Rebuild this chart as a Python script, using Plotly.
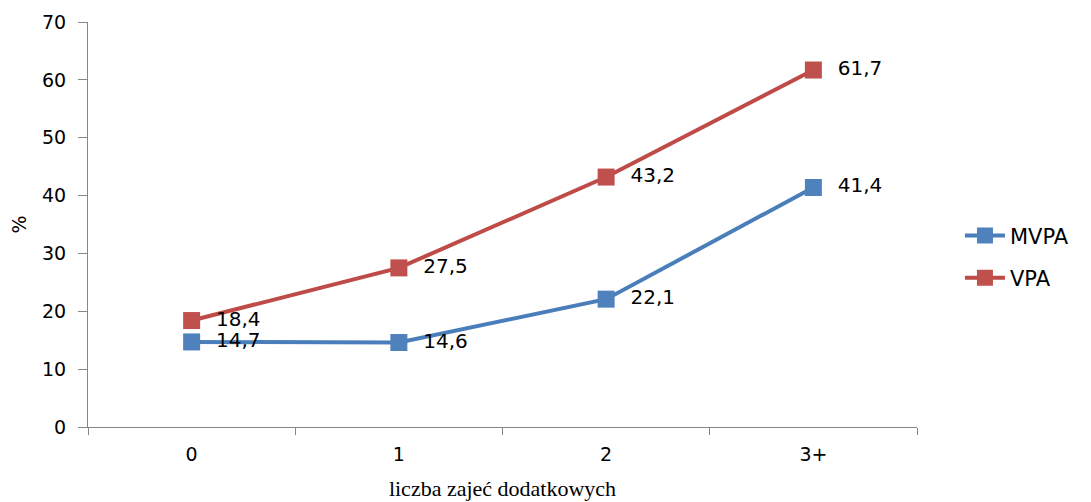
import plotly.graph_objects as go

categories = ["0", "1", "2", "3+"]
mvpa = [14.7, 14.6, 22.1, 41.4]
vpa = [18.4, 27.5, 43.2, 61.7]
y_ticks = [0, 10, 20, 30, 40, 50, 60, 70]

FONT = "DejaVu Sans"

fig = go.Figure()
fig.add_trace(go.Scatter(
    x=categories, y=mvpa, name="MVPA", mode="lines+markers+text",
    line=dict(color="#4A7EBB", width=4),
    marker=dict(symbol="square", size=17, color="#4F81BD"),
    texttemplate="\u00a0\u00a0%{y:.1f}", textposition="middle right",
    textfont=dict(family=FONT, size=20, color="#000000"),
    legendgroup="a",
))
fig.add_trace(go.Scatter(
    x=categories, y=vpa, name="VPA", mode="lines+markers+text",
    line=dict(color="#BE4B48", width=4),
    marker=dict(symbol="square", size=17, color="#C0504D"),
    texttemplate="\u00a0\u00a0%{y:.1f}", textposition="middle right",
    textfont=dict(family=FONT, size=20, color="#000000"),
    legendgroup="b",
))

fig.update_layout(
    width=1083, height=494,
    margin=dict(l=80, r=174, t=14, b=75),
    paper_bgcolor="white", plot_bgcolor="white",
    separators=",.",
    font=dict(family=FONT, size=19, color="#000000"),
    showlegend=True,
    legend=dict(xref="container", x=0.879, y=0.42, xanchor="left", yanchor="middle",
                font=dict(family=FONT, size=21, color="#000000"),
                tracegroupgap=12, traceorder="grouped",
                itemwidth=40, bgcolor="rgba(0,0,0,0)"),
    xaxis=dict(
        type="category", range=[-0.5, 3.5], automargin=False,
        showline=True, linecolor="#868686", linewidth=1,
        ticks="outside", tickson="boundaries", ticklen=7, tickcolor="#868686",
        showgrid=False, zeroline=False,
        tickfont=dict(family=FONT, size=19),
        ticklabelstandoff=10,
        title=dict(text="liczba zajeć dodatkowych",
                   font=dict(family="Liberation Serif", size=22),
                   standoff=16),
    ),
    yaxis=dict(
        range=[0, 70], tickvals=y_ticks, automargin=False,
        showline=True, linecolor="#868686", linewidth=1,
        ticks="outside", ticklen=9, tickcolor="#868686",
        showgrid=False, zeroline=False,
        tickfont=dict(family=FONT, size=19),
        ticklabelstandoff=8,
        title=dict(text="%", font=dict(family=FONT, size=19), standoff=22),
    ),
)

fig.write_html("out.html")
